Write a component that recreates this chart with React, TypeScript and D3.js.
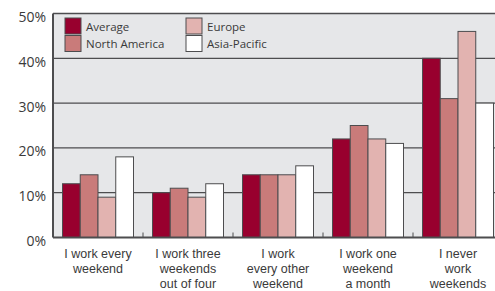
import { useEffect, useRef } from "react";
import * as d3 from "d3";

const categories = [
  ["I work every", "weekend"],
  ["I work three", "weekends", "out of four"],
  ["I work", "every other", "weekend"],
  ["I work one", "weekend", "a month"],
  ["I never", "work", "weekends"],
];
const seriesNames = ["Average", "North America", "Europe", "Asia-Pacific"];
const seriesColors = ["#98002e", "#c97b7a", "#e2b3b0", "#ffffff"];
const average = [12, 10, 14, 22, 40];
const northAmerica = [14, 11, 14, 25, 31];
const europe = [9, 9, 14, 22, 46];
const asiaPacific = [18, 12, 16, 21, 30];
const yTicks = [0, 10, 20, 30, 40, 50];

const W = 495;
const H = 291;
const FONT = "'Open Sans', 'DejaVu Sans', sans-serif";
const LABEL_FONT = "'Liberation Sans', Arial, sans-serif";

export default function App() {
  const svgRef = useRef<SVGSVGElement>(null);

  useEffect(() => {
    document.body.style.margin = "0";
    if (!svgRef.current) return;
    const svg = d3.select(svgRef.current);
    svg.selectAll("*").remove();

    const left = 53;
    const right = 503;
    const top = 13.5;
    const bottom = 237.5;

    const x0 = d3
      .scaleBand<number>()
      .domain(d3.range(categories.length))
      .range([left, right]);
    const x1 = d3
      .scaleBand<number>()
      .domain(d3.range(seriesNames.length))
      .range([9.5, 80.5]);
    const y = d3.scaleLinear().domain([0, 50]).range([bottom, top]);

    const values = [average, northAmerica, europe, asiaPacific];

    // plot background
    svg
      .append("rect")
      .attr("x", left)
      .attr("y", top)
      .attr("width", right - left)
      .attr("height", bottom - top)
      .attr("fill", "#e6e7e9");

    // gridlines
    svg
      .append("g")
      .selectAll("line")
      .data(yTicks.filter((t) => t > 0))
      .join("line")
      .attr("x1", left)
      .attr("x2", right)
      .attr("y1", (d) => y(d))
      .attr("y2", (d) => y(d))
      .attr("stroke", "#4d4d4f")
      .attr("stroke-width", 1.3);

    // bars
    const groups = svg
      .append("g")
      .selectAll("g")
      .data(d3.range(categories.length))
      .join("g")
      .attr("transform", (i) => `translate(${x0(i)},0)`);

    groups
      .selectAll("rect")
      .data((i) => values.map((s, k) => ({ k, v: s[i] })))
      .join("rect")
      .attr("x", (d) => x1(d.k)!)
      .attr("y", (d) => y(d.v))
      .attr("width", x1.bandwidth())
      .attr("height", (d) => bottom - y(d.v))
      .attr("fill", (d) => seriesColors[d.k])
      .attr("stroke", "#4d4d4f")
      .attr("stroke-width", 1);

    // small ticks between groups
    svg
      .append("g")
      .selectAll("line")
      .data(d3.range(1, categories.length))
      .join("line")
      .attr("x1", (i) => x0(i)!)
      .attr("x2", (i) => x0(i)!)
      .attr("y1", bottom)
      .attr("y2", bottom - 5)
      .attr("stroke", "#4d4d4f")
      .attr("stroke-width", 1);

    // axes lines
    svg
      .append("line")
      .attr("x1", left)
      .attr("x2", left)
      .attr("y1", top)
      .attr("y2", bottom)
      .attr("stroke", "#4d4d4f")
      .attr("stroke-width", 2);
    svg
      .append("line")
      .attr("x1", left)
      .attr("x2", right)
      .attr("y1", bottom)
      .attr("y2", bottom)
      .attr("stroke", "#4d4d4f")
      .attr("stroke-width", 2);

    // y tick labels
    svg
      .append("g")
      .selectAll("text")
      .data(yTicks)
      .join("text")
      .attr("x", 46)
      .attr("y", (d) => y(d) + 8.5)
      .attr("text-anchor", "end")
      .attr("font-family", FONT)
      .attr("font-size", 14)
      .attr("fill", "#3a3a3a")
      .text((d) => `${d}%`);

    // category labels, one text per line
    svg
      .append("g")
      .selectAll("text")
      .data(categories.flatMap((lines, i) => lines.map((t, j) => ({ t, i, j }))))
      .join("text")
      .attr("text-anchor", "middle")
      .attr("font-family", LABEL_FONT)
      .attr("font-size", 12.5)
      .attr("fill", "#3a3a3a")
      .attr("x", (d) => x0(d.i)! + x0.bandwidth() / 2)
      .attr("y", (d) => 257.5 + d.j * 15)
      .text((d) => d.t);

    // legend
    const legendPos = [
      [65, 18],
      [65, 35.5],
      [186, 18],
      [186, 35.5],
    ];
    const leg = svg
      .append("g")
      .selectAll("g")
      .data(seriesNames)
      .join("g")
      .attr("transform", (d, i) => `translate(${legendPos[i][0]},${legendPos[i][1]})`);
    leg
      .append("rect")
      .attr("width", 16)
      .attr("height", 16)
      .attr("fill", (d, i) => seriesColors[i])
      .attr("stroke", "#4d4d4f")
      .attr("stroke-width", 1);
    leg
      .append("text")
      .attr("x", 21)
      .attr("y", 12.5)
      .attr("font-family", FONT)
      .attr("font-size", 11.5)
      .attr("fill", "#3a3a3a")
      .text((d) => d);
  }, []);

  return (
    <svg
      ref={svgRef}
      width={W}
      height={H}
      style={{ display: "block", background: "#ffffff" }}
    />
  );
}
